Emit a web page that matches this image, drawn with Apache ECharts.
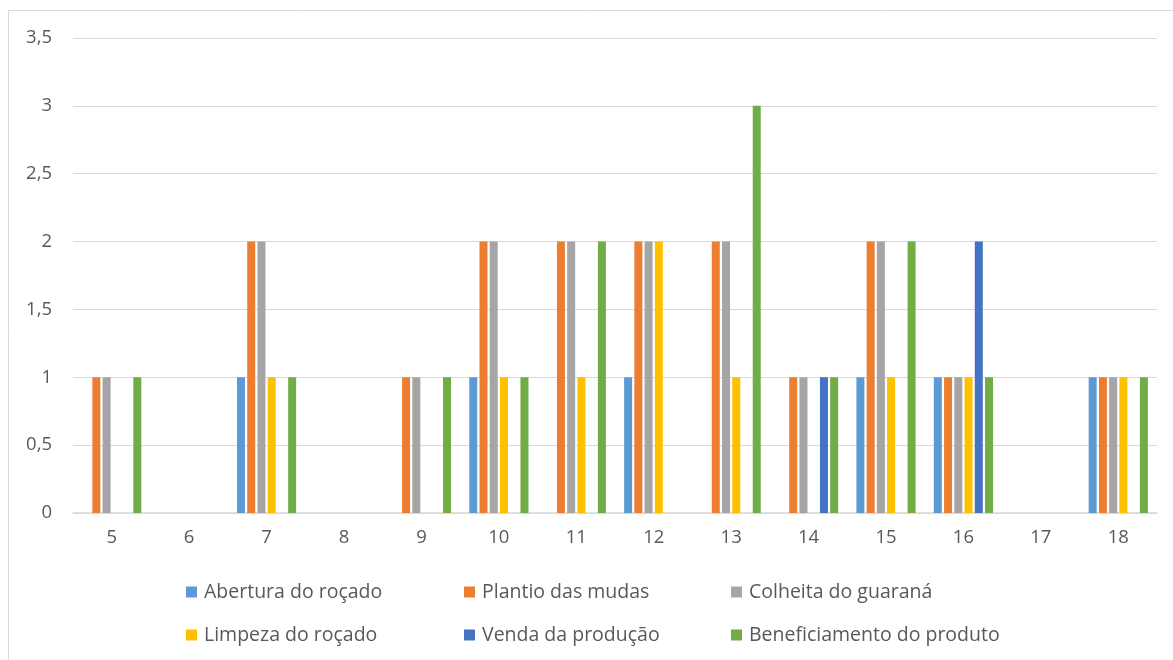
<!DOCTYPE html>
<html>
<head>
<meta charset="utf-8">
<script src="https://cdn.jsdelivr.net/npm/echarts@6/dist/echarts.min.js"></script>
<style>
  html, body { margin: 0; padding: 0; background: #fff; }
  #chart { width: 1173px; height: 660px; }
</style>
</head>
<body>
<div id="chart"></div>
<script>
// Categories along the x axis
const categories = ['5', '6', '7', '8', '9', '10', '11', '12', '13', '14', '15', '16', '17', '18'];

// Activity series (one value per category)
const aberturaRocado      = [0, 0, 1, 0, 0, 1, 0, 1, 0, 0, 1, 1, 0, 1];
const plantioMudas        = [1, 0, 2, 0, 1, 2, 2, 2, 2, 1, 2, 1, 0, 1];
const colheitaGuarana     = [1, 0, 2, 0, 1, 2, 2, 2, 2, 1, 2, 1, 0, 1];
const limpezaRocado       = [0, 0, 1, 0, 0, 1, 1, 2, 1, 0, 1, 1, 0, 1];
const vendaProducao       = [0, 0, 0, 0, 0, 0, 0, 0, 0, 1, 0, 2, 0, 0];
const beneficiamento      = [1, 0, 1, 0, 1, 1, 2, 0, 3, 1, 2, 1, 0, 1];

const seriesNames = [
  'Abertura do roçado',
  'Plantio das mudas',
  'Colheita do guaraná',
  'Limpeza do roçado',
  'Venda da produção',
  'Beneficiamento do produto'
];
const seriesData = [aberturaRocado, plantioMudas, colheitaGuarana, limpezaRocado, vendaProducao, beneficiamento];
const colors = ['#5B9BD5', '#ED7D31', '#A5A5A5', '#FFC000', '#4472C4', '#70AD47'];

const fontFamily = '"Open Sans", sans-serif';
const textColor = '#595959';

// Legend entries laid out in two rows of three
const legendPos = [
  { left: 186, top: 582 }, { left: 464, top: 582 }, { left: 731, top: 582 },
  { left: 186, top: 625 }, { left: 464, top: 625 }, { left: 731, top: 625 }
];

const chart = echarts.init(document.getElementById('chart'));
chart.setOption({
  animation: false,
  color: colors,
  graphic: [{
    type: 'rect',
    shape: { x: 8.5, y: 10.5, width: 1180, height: 680 },
    style: { fill: 'none', stroke: '#D9D9D9', lineWidth: 1 },
    silent: true
  }],
  grid: { left: 73, right: 16, top: 38, bottom: 147, containLabel: false },
  legend: legendPos.map((p, i) => ({
    data: [seriesNames[i]],
    left: p.left,
    top: p.top,
    padding: 0,
    icon: 'rect',
    itemWidth: 11,
    itemHeight: 11,
    itemGap: 0,
    textStyle: { color: textColor, fontSize: 19.5, fontFamily: fontFamily, padding: [0, 0, 0, 2] }
  })),
  xAxis: {
    type: 'category',
    data: categories,
    axisTick: { show: false },
    axisLine: { lineStyle: { color: '#D9D9D9', width: 1.5 } },
    axisLabel: { color: textColor, fontSize: 18.5, fontFamily: fontFamily, margin: 15 }
  },
  yAxis: {
    type: 'value',
    min: 0,
    max: 3.5,
    interval: 0.5,
    axisLine: { show: false },
    axisTick: { show: false },
    splitLine: { lineStyle: { color: '#D9D9D9', width: 1 } },
    axisLabel: {
      color: textColor, fontSize: 18.5, fontFamily: fontFamily, margin: 21,
      formatter: v => String(v).replace('.', ',')
    }
  },
  series: seriesNames.map((name, i) => ({
    name: name,
    type: 'bar',
    data: seriesData[i],
    barWidth: 8,
    barGap: '28%',
    itemStyle: { color: colors[i] }
  }))
});
</script>
</body>
</html>
